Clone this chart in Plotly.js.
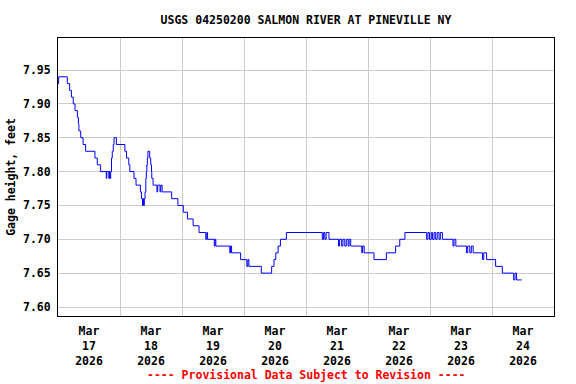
<!DOCTYPE html>
<html>
<head>
<meta charset="utf-8">
<script src="https://cdn.plot.ly/plotly-3.0.1.min.js"></script>
<style>
  html, body { margin: 0; padding: 0; background: #ffffff; }
  #chart { width: 576px; height: 384px; }
</style>
</head>
<body>
<div id="chart"></div>
<script>
// Hours since 2026-03-17 00:00 (step changes of the gage reading)
const hours = [0, 0.25, 3.6, 4.5, 5.2, 5.9, 6.6, 7.5, 7.9, 8.1, 8.8, 9.7, 10.7, 14.3, 15.2, 16.5,
  18.7, 18.9, 19.7, 19.9, 20.1, 20.4, 20.7, 21.0, 21.4, 21.7, 22.6, 25.9, 26.5, 27.4, 27.8,
  29.4, 30.2, 31.9, 32.3, 32.7, 33.0, 33.2, 33.4, 33.7, 34.0, 34.2, 34.4, 34.6, 34.8, 35.5,
  35.9, 36.2, 36.3, 36.8, 38.3, 38.6, 39.5, 39.8, 40.3, 44.0, 46.4, 48.5, 50.1, 52.3, 54.6,
  57.2, 57.6, 57.9, 60.5, 60.8, 61.1, 66.5, 66.8, 67.2, 70.7, 73.1, 73.5, 73.9, 78.7, 82.7,
  83.6, 84.3, 85.2, 86.1, 88.4, 102.3, 102.8, 103.3, 103.8, 104.9, 108.6, 109.0, 109.8,
  110.3, 111.0, 111.6, 112.3, 112.7, 113.3, 117.6, 117.9, 118.5, 122.3, 127.1, 130.7, 132.3,
  134.3, 142.7, 143.2, 143.8, 144.5, 145.0, 145.6, 146.2, 146.8, 147.5, 148.0, 148.8, 152.9,
  153.3, 154.0, 158.1, 158.6, 159.4, 160.0, 160.7, 164.3, 164.8, 165.9, 169.4, 172.0, 176.4,
  176.9, 177.5, 179.5];
// Gage height, feet
const gageHeight = [7.93, 7.94, 7.93, 7.92, 7.91, 7.90, 7.89, 7.88, 7.87, 7.86, 7.85, 7.84, 7.83, 7.82, 7.81, 7.80,
  7.79, 7.80, 7.79, 7.80, 7.79, 7.80, 7.82, 7.83, 7.84, 7.85, 7.84, 7.83, 7.82, 7.81, 7.80,
  7.79, 7.78, 7.77, 7.76, 7.75, 7.76, 7.75, 7.76, 7.77, 7.79, 7.80, 7.81, 7.82, 7.83, 7.82,
  7.81, 7.80, 7.79, 7.78, 7.77, 7.78, 7.77, 7.78, 7.77, 7.76, 7.75, 7.74, 7.73, 7.72, 7.71,
  7.70, 7.71, 7.70, 7.69, 7.70, 7.69, 7.68, 7.69, 7.68, 7.67, 7.66, 7.67, 7.66, 7.65, 7.66,
  7.67, 7.68, 7.69, 7.70, 7.71, 7.70, 7.71, 7.70, 7.71, 7.70, 7.69, 7.70, 7.69,
  7.70, 7.69, 7.70, 7.69, 7.70, 7.69, 7.68, 7.69, 7.68, 7.67, 7.68, 7.69, 7.70,
  7.71, 7.70, 7.71, 7.70, 7.71, 7.70, 7.71, 7.70, 7.71, 7.70, 7.71, 7.70, 7.69,
  7.70, 7.69, 7.68, 7.69, 7.68, 7.69, 7.68, 7.67, 7.68, 7.67, 7.66, 7.65, 7.64,
  7.65, 7.64, 7.64];

const dayTickHours = [12, 36, 60, 84, 108, 132, 156, 180];
const dayTickText = ["Mar<br>17<br>2026", "Mar<br>18<br>2026", "Mar<br>19<br>2026", "Mar<br>20<br>2026",
  "Mar<br>21<br>2026", "Mar<br>22<br>2026", "Mar<br>23<br>2026", "Mar<br>24<br>2026"];
const yTickVals = [7.60, 7.65, 7.70, 7.75, 7.80, 7.85, 7.90, 7.95];
const yTickText = ["7.60", "7.65", "7.70", "7.75", "7.80", "7.85", "7.90", "7.95"];

const titleText = "USGS 04250200 SALMON RIVER AT PINEVILLE NY";
const yTitleText = "Gage height, feet";
const noteText = "---- Provisional Data Subject to Revision ----";

const FONT = "DejaVu Sans Mono, Liberation Mono, monospace";
const fnt = (c) => ({ family: FONT, size: 11.5, color: c || "#000000", weight: "bold" });

const trace = {
  x: hours, y: gageHeight, type: "scatter", mode: "lines",
  line: { color: "#0000ff", width: 1, shape: "hv" },
  hoverinfo: "skip"
};

const layout = {
  width: 576, height: 384,
  margin: { l: 58, r: 22, t: 38, b: 68 },
  paper_bgcolor: "#ffffff", plot_bgcolor: "#ffffff",
  font: fnt(),
  showlegend: false,
  title: { text: titleText, font: fnt(), x: 0.5, xref: "paper", y: 0.948, yref: "container", yanchor: "middle" },
  xaxis: {
    range: [0, 192], tickmode: "array", tickvals: dayTickHours, ticktext: dayTickText,
    showgrid: false, zeroline: false, ticks: "", tickfont: fnt(), ticklabelstandoff: 4,
    showline: true, mirror: true, linecolor: "#000000", linewidth: 1,
    minor: { tick0: 0, dtick: 24, showgrid: true, gridcolor: "#cccccc", gridwidth: 1, ticks: "" }
  },
  yaxis: {
    range: [7.5867, 7.9973], tickmode: "array", tickvals: yTickVals, ticktext: yTickText,
    showgrid: true, gridcolor: "#cccccc", gridwidth: 1, zeroline: false, ticks: "",
    tickfont: fnt(), ticklabelstandoff: 4,
    showline: true, mirror: true, linecolor: "#000000", linewidth: 1,
    title: { text: yTitleText, font: fnt(), standoff: 4 }
  },
  annotations: [{
    text: noteText, xref: "paper", yref: "paper", x: 0.5, y: -0.212,
    xanchor: "center", yanchor: "middle", showarrow: false, font: fnt("#ff0000")
  }]
};

Plotly.newPlot("chart", [trace], layout, { displayModeBar: false, staticPlot: true });
</script>
</body>
</html>
